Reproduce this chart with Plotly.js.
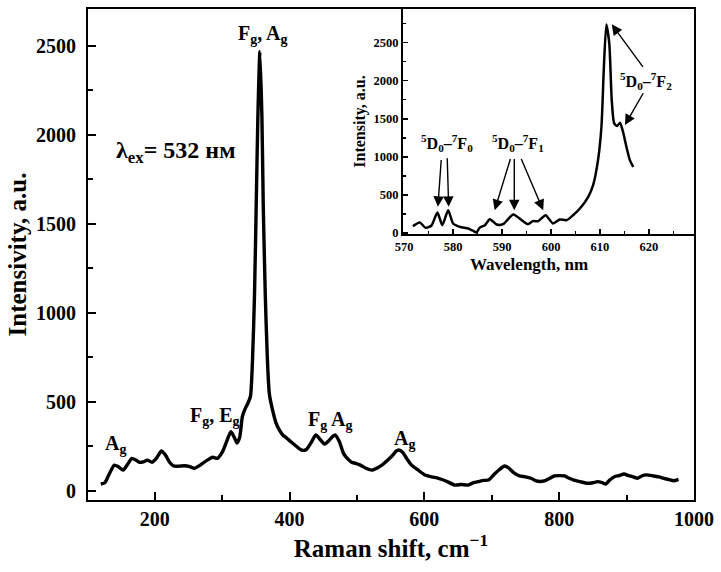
<!DOCTYPE html>
<html>
<head>
<meta charset="utf-8">
<script src="https://cdn.plot.ly/plotly-3.0.1.min.js"></script>
<style>html,body{margin:0;padding:0;background:#fff;}#chart{width:721px;height:572px;}</style>
</head>
<body>
<div id="chart"></div>
<script>
// Main Raman spectrum
const ramanShift = [120,126,132,140,146,153,160,166,172,177,183,189,196,203,210,216,222,228,236,244,252,259,265,271,278,286,293,300,306,313,318,322,326,330,334,338,342,345,348,351,353,356,359,361,364,367,370,375,380,385,390,396,402,410,418,425,432,439,446,452,458,464,468,474,480,486,492,498,505,514,522,530,537,545,552,558,562,568,574,581,590,601,611,621,632,645,655,665,673,680,688,695,703,711,719,725,733,741,750,758,766,772,778,786,793,801,808,815,822,832,842,850,857,864,869,875,882,889,896,903,910,916,921,926,933,940,948,955,963,970,977];
const ramanIntensity = [38,45,90,144,135,116,150,182,172,160,162,172,160,185,223,200,160,139,138,140,135,126,138,154,172,188,182,215,270,331,300,268,300,416,460,490,530,730,1100,1700,2100,2466,2100,1600,1100,750,545,450,380,340,313,295,275,250,228,232,270,313,285,262,280,305,313,275,210,180,160,154,144,125,116,128,144,170,195,222,229,215,180,144,118,88,78,70,55,32,35,32,45,51,58,60,90,118,139,128,100,83,78,70,55,52,55,70,83,85,83,70,60,50,42,45,51,45,38,60,79,85,94,85,78,70,80,88,88,83,78,70,62,56,64];

// Inset luminescence spectrum
const wavelength = [571.8,573.2,574.4,575.6,576.8,577.8,579.0,580.0,581.4,583.1,584.1,584.8,585.4,586.5,587.5,588.9,590.2,592.3,594.0,595.3,596.3,597.4,598.9,600.4,601.8,603.2,604.5,605.9,607.6,608.6,609.6,610.3,610.8,611.3,611.9,612.4,612.9,613.5,614.1,614.7,615.4,616.1,616.8];
const lumIntensity = [88,136,66,96,268,101,298,123,79,57,26,4,66,101,180,110,114,241,167,114,154,154,232,123,175,167,232,320,474,627,956,1395,2184,2740,2491,1746,1439,1404,1447,1329,1132,956,868];

// Labels
const mainXTitle = 'Raman shift, cm<sup>\u22121</sup>';
const mainYTitle = 'Intensivity, a.u.';
const insetXTitle = 'Wavelength, nm';
const insetYTitle = 'Intensity, a.u.';
const peakLabels = ['A<sub>g</sub>', 'F<sub>g</sub>, E<sub>g</sub>', 'F<sub>g</sub>, A<sub>g</sub>', 'F<sub>g</sub> A<sub>g</sub>', 'A<sub>g</sub>'];
const peakLabelX = [142, 289, 361, 460, 570];
const peakLabelY = [262, 418, 2560, 395, 290];
const excText = '\u03bb<sub>ex</sub>= 532 \u043d\u043c';
const transLabels = ['<sup>5</sup>D<sub>0</sub>\u2013<sup>7</sup>F<sub>0</sub>', '<sup>5</sup>D<sub>0</sub>\u2013<sup>7</sup>F<sub>1</sub>', '<sup>5</sup>D<sub>0</sub>\u2013<sup>7</sup>F<sub>2</sub>'];
const transLabelX = [578.8, 593.2, 619.3];
const transLabelY = [1175, 1175, 1990];
// arrows: head (x,y) and tail (ax,ay) in inset data units
const arrowHeadX = [576.9, 579.1, 588.5, 592.5, 598.4, 612.4, 615.1];
const arrowHeadY = [342, 342, 298, 298, 298, 2741, 1417];
const arrowTailX = [577.6, 578.8, 591.8, 592.5, 593.8, 619.0, 619.0];
const arrowTailY = [978, 1000, 991, 991, 991, 2162, 1855];

const FONT = 'Liberation Serif, Times New Roman, serif';

const traces = [
  {x: ramanShift, y: ramanIntensity, type: 'scatter', mode: 'lines',
   line: {color: '#000', width: 3.4, shape: 'spline', smoothing: 0.6}, xaxis: 'x', yaxis: 'y', hoverinfo: 'skip'},
  {x: wavelength, y: lumIntensity, type: 'scatter', mode: 'lines',
   line: {color: '#000', width: 2.5, shape: 'spline', smoothing: 0.6}, xaxis: 'x2', yaxis: 'y2', hoverinfo: 'skip'}
];

const annotations = [];
for (let i = 0; i < peakLabels.length; i++) {
  annotations.push({x: peakLabelX[i], y: peakLabelY[i], xref: 'x', yref: 'y', text: peakLabels[i],
    showarrow: false, font: {family: FONT, size: 20, color: '#000', weight: 'bold'}});
}
annotations.push({x: 232, y: 1905, xref: 'x', yref: 'y', text: excText, showarrow: false,
  font: {family: FONT, size: 24, color: '#000', weight: 'bold'}});
for (let i = 0; i < transLabels.length; i++) {
  annotations.push({x: transLabelX[i], y: transLabelY[i], xref: 'x2', yref: 'y2', text: transLabels[i],
    showarrow: false, font: {family: FONT, size: 16, color: '#000', weight: 'bold'}});
}
for (let i = 0; i < arrowHeadX.length; i++) {
  annotations.push({x: arrowHeadX[i], y: arrowHeadY[i], ax: arrowTailX[i], ay: arrowTailY[i],
    xref: 'x2', yref: 'y2', axref: 'x2', ayref: 'y2', text: '', showarrow: true,
    arrowhead: 2, arrowsize: 1.5, arrowwidth: 1.4, arrowcolor: '#000', standoff: 0, startstandoff: 0});
}
// inset x-axis title
annotations.push({x: 0.727, y: 0.5418, xref: 'paper', yref: 'paper', yshift: -31, xanchor: 'center', yanchor: 'middle',
  text: insetXTitle, showarrow: false, font: {family: FONT, size: 17, color: '#000', weight: 'bold'}});

const layout = {
  width: 721, height: 572,
  margin: {l: 88, r: 27, t: 9, b: 72},
  paper_bgcolor: '#fff', plot_bgcolor: '#fff',
  showlegend: false,
  font: {family: FONT, color: '#000'},
  xaxis: {
    range: [101, 1000], tickvals: [200, 400, 600, 800, 1000],
    ticks: 'inside', ticklen: 8, tickwidth: 2, tickcolor: '#000',
    minor: {tickvals: [300, 500, 700, 900], ticks: 'inside', ticklen: 5, tickwidth: 2, tickcolor: '#000'},
    showline: true, linewidth: 2, linecolor: '#000', mirror: true,
    showgrid: false, zeroline: false,
    tickfont: {family: FONT, size: 20, weight: 'bold'},
    title: {text: mainXTitle, font: {family: FONT, size: 25, weight: 'bold'}, standoff: 10},
    domain: [0, 1], anchor: 'y'
  },
  yaxis: {
    range: [-52, 2706], tickvals: [0, 500, 1000, 1500, 2000, 2500],
    ticks: 'inside', ticklen: 8, tickwidth: 2, tickcolor: '#000',
    minor: {tickvals: [250, 750, 1250, 1750, 2250], ticks: 'inside', ticklen: 5, tickwidth: 2, tickcolor: '#000'},
    showline: true, linewidth: 2, linecolor: '#000', mirror: true,
    showgrid: false, zeroline: false,
    tickfont: {family: FONT, size: 20, weight: 'bold'},
    ticklabelstandoff: 6,
    title: {text: mainYTitle, font: {family: FONT, size: 25, weight: 'bold'}, standoff: 2},
    domain: [0, 1], anchor: 'x'
  },
  xaxis2: {
    range: [569.8, 629.2], tickvals: [570, 580, 590, 600, 610, 620],
    ticks: 'inside', ticklen: 5, tickwidth: 1.5, tickcolor: '#000',
    minor: {tickvals: [575, 585, 595, 605, 615, 625], ticks: 'inside', ticklen: 3, tickwidth: 1.5, tickcolor: '#000'},
    showline: true, linewidth: 2, linecolor: '#000', mirror: true,
    showgrid: false, zeroline: false,
    tickfont: {family: FONT, size: 12.5, weight: 'bold'},
    domain: [0.52, 1], anchor: 'y2'
  },
  yaxis2: {
    range: [-15, 2943], tickvals: [0, 500, 1000, 1500, 2000, 2500],
    ticks: 'inside', ticklen: 5, tickwidth: 1.5, tickcolor: '#000',
    minor: {tickvals: [250, 750, 1250, 1750, 2250, 2750], ticks: 'inside', ticklen: 3, tickwidth: 1.5, tickcolor: '#000'},
    showline: true, linewidth: 2, linecolor: '#000', mirror: true,
    showgrid: false, zeroline: false,
    tickfont: {family: FONT, size: 12.5, weight: 'bold'},
    title: {text: insetYTitle, font: {family: FONT, size: 16, weight: 'bold'}, standoff: 4},
    domain: [0.5418, 1], anchor: 'x2'
  },
  annotations: annotations
};

Plotly.newPlot('chart', traces, layout, {staticPlot: true, displayModeBar: false});
</script>
</body>
</html>
